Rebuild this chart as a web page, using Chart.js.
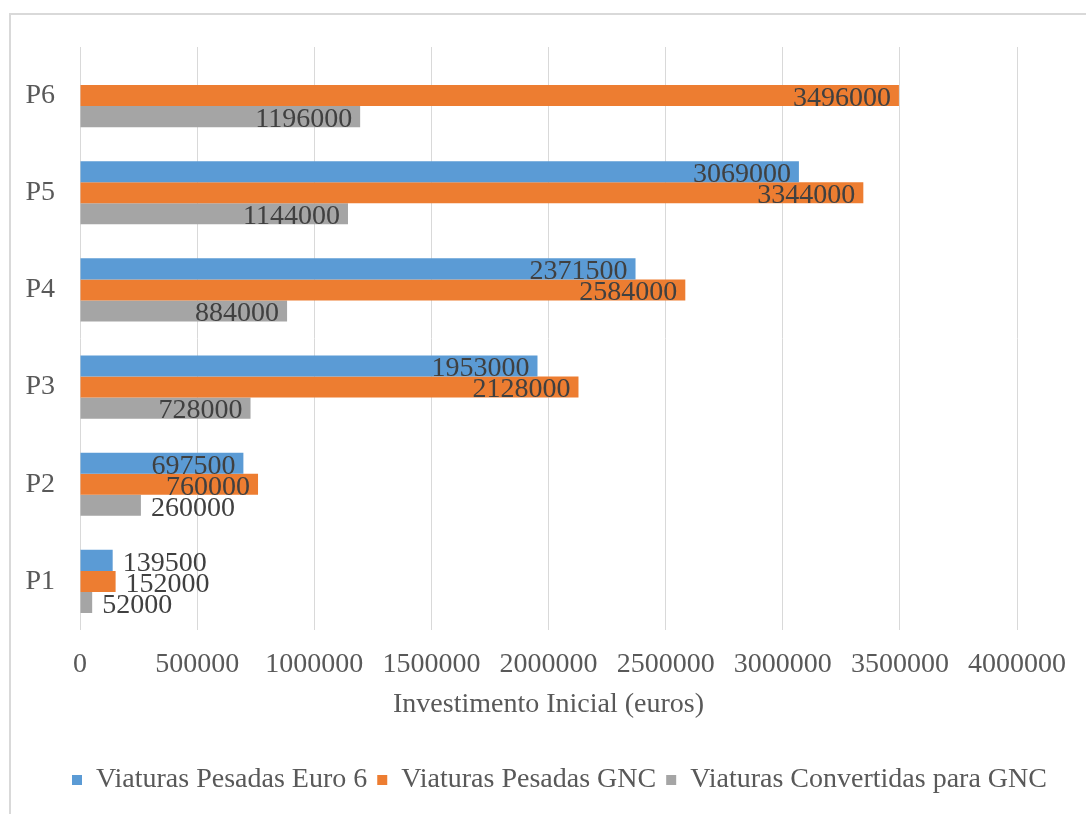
<!DOCTYPE html>
<html>
<head>
    <title>Investimento Inicial</title>
    <script src="https://cdn.jsdelivr.net/npm/chart.js"></script>
    <style>
        body {
            margin: 0;
            background: #fff;
            overflow: hidden;
        }
        #frame {
            position: absolute;
            left: 9px;
            top: 13px;
            width: 1100px;
            height: 840px;
            border: 2px solid #d9d9d9;
        }
        canvas {
            position: absolute;
            left: 0;
            top: 0;
        }
    </style>
</head>
<body>
    <div id="frame"></div>
    <canvas id="investChart" width="1086" height="814"></canvas>

    <script>
        // categories top to bottom
        const categories = ['P6', 'P5', 'P4', 'P3', 'P2', 'P1'];
        const euro6 = [null, 3069000, 2371500, 1953000, 697500, 139500];
        const gnc = [3496000, 3344000, 2584000, 2128000, 760000, 152000];
        const convertidas = [1196000, 1144000, 884000, 728000, 260000, 52000];
        const xTicks = [0, 500000, 1000000, 1500000, 2000000, 2500000, 3000000, 3500000, 4000000];

        const serif = '"Liberation Serif", "Times New Roman", serif';

        // value labels: inside the bar end when they fit, else just past it
        const barLabels = {
            id: 'barLabels',
            afterDatasetsDraw(chart) {
                const ctx = chart.ctx;
                ctx.save();
                ctx.font = '28px ' + serif;
                ctx.fillStyle = '#404040';
                ctx.textBaseline = 'middle';
                chart.data.datasets.forEach((ds, i) => {
                    chart.getDatasetMeta(i).data.forEach((bar, j) => {
                        const v = ds.data[j];
                        if (v == null) return;
                        const text = String(v);
                        const w = ctx.measureText(text).width;
                        const len = bar.x - bar.base;
                        if (len > w + 16) {
                            ctx.textAlign = 'right';
                            ctx.fillText(text, bar.x - 8, bar.y + 3);
                        } else {
                            ctx.textAlign = 'left';
                            ctx.fillText(text, bar.x + 10, bar.y + 3);
                        }
                    });
                });
                ctx.restore();
            }
        };

        // start the legend row near the plot's left edge and let it run to the canvas edge
        const legendShift = {
            id: 'legendShift',
            afterLayout(chart) {
                if (!chart.legend) return;
                chart.legend.left = chart.chartArea.left - 18;
                chart.legend.right = chart.width;
            }
        };

        const ctx = document.getElementById('investChart').getContext('2d');
        const investChart = new Chart(ctx, {
            type: 'bar',
            data: {
                labels: categories,
                datasets: [
                    { label: 'Viaturas Pesadas Euro 6', data: euro6, backgroundColor: '#5b9bd5' },
                    { label: 'Viaturas Pesadas GNC', data: gnc, backgroundColor: '#ed7d31' },
                    { label: 'Viaturas Convertidas para GNC', data: convertidas, backgroundColor: '#a5a5a5' }
                ]
            },
            options: {
                indexAxis: 'y',
                responsive: false,
                animation: false,
                devicePixelRatio: 1,
                categoryPercentage: 0.65,
                barPercentage: 1.0,
                layout: { padding: { left: 0, right: 69, top: 47, bottom: 10 } },
                scales: {
                    x: {
                        min: 0,
                        max: 4000000,
                        afterBuildTicks: axis => { axis.ticks = xTicks.map(v => ({ value: v })); },
                        afterFit: axis => { axis.height = 126; },
                        ticks: {
                            autoSkip: false,
                            maxRotation: 0,
                            padding: 18,
                            color: '#595959',
                            font: { family: serif, size: 28 },
                            callback: v => String(v)
                        },
                        grid: { color: '#d9d9d9', lineWidth: 1, drawTicks: false },
                        border: { display: false },
                        title: {
                            display: true,
                            text: 'Investimento Inicial (euros)',
                            color: '#595959',
                            font: { family: serif, size: 28 },
                            padding: { top: 4, bottom: 35 }
                        }
                    },
                    y: {
                        afterFit: axis => { axis.width = 80; },
                        ticks: {
                            padding: 25,
                            color: '#595959',
                            font: { family: serif, size: 28 }
                        },
                        grid: { display: false, drawTicks: false },
                        border: { display: false }
                    }
                },
                plugins: {
                    tooltip: { enabled: false },
                    legend: {
                        position: 'bottom',
                        align: 'start',
                        labels: {
                            boxWidth: 10,
                            boxHeight: 10,
                            padding: 10,
                            color: '#595959',
                            font: { family: serif, size: 28 }
                        }
                    }
                }
            },
            plugins: [barLabels, legendShift]
        });
    </script>
</body>
</html>
